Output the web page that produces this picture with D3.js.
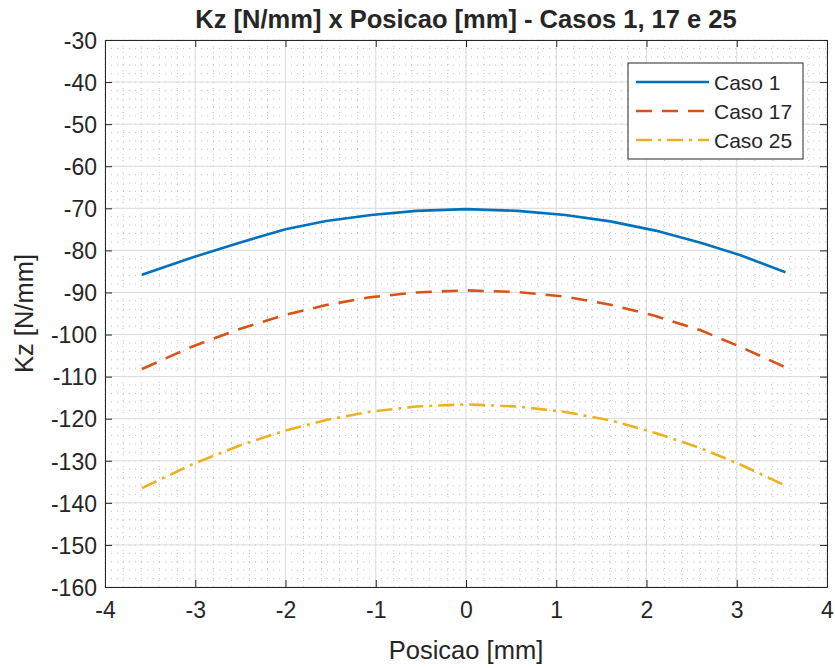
<!DOCTYPE html>
<html>
<head>
<meta charset="utf-8">
<script src="https://cdn.jsdelivr.net/npm/d3@7"></script>
<style>
  body { margin: 0; background: #fff; }
  text { font-family: "Liberation Sans", Arial, sans-serif; fill: #262626; }
</style>
</head>
<body>
<script>
var posicao = [-3.59, -3.05, -2.5, -2.0, -1.55, -1.05, -0.55, 0, 0.57, 1.1, 1.6, 2.1, 2.6, 3.05, 3.54];
var caso1  = [-85.8, -81.8, -78.1, -75.0, -73.0, -71.6, -70.6, -70.2, -70.6, -71.6, -73.1, -75.3, -78.2, -81.2, -85.2];
var caso17 = [-108.2, -103.0, -98.6, -95.3, -93.0, -91.1, -90.0, -89.5, -89.9, -91.0, -92.9, -95.6, -99.0, -103.0, -107.8];
var caso25 = [-136.5, -131.0, -126.3, -122.8, -120.3, -118.3, -117.1, -116.6, -117.1, -118.4, -120.4, -123.4, -127.0, -131.0, -135.9];
var seriesNames = ['Caso 1', 'Caso 17', 'Caso 25'];
var xTicks = [-4, -3, -2, -1, 0, 1, 2, 3, 4];
var yTicks = [-30, -40, -50, -60, -70, -80, -90, -100, -110, -120, -130, -140, -150, -160];

var width = 835, height = 668;
var margin = {left: 105, right: 8, top: 40, bottom: 81};
var colors = ['#0072BD', '#D95319', '#EDB120'];
var dashes = [null, '16,10', '16,6,3,6'];

var x = d3.scaleLinear().domain([-4, 4]).range([margin.left, width - margin.right]);
var y = d3.scaleLinear().domain([-160, -30]).range([height - margin.bottom, margin.top]);

// matlab style labels use a plain hyphen
var fmt = d => String(d);

var svg = d3.select('body').append('svg')
  .attr('width', width)
  .attr('height', height);

var x0 = x.range()[0], x1 = x.range()[1], y0 = y.range()[1], y1 = y.range()[0];

// minor grid
var xMinor = d3.range(-4, 4.001, 0.2);
var yMinor = d3.range(-160, -29.9, 2);
svg.append('g').selectAll('line').data(xMinor).enter().append('line')
  .attr('x1', d => x(d)).attr('x2', d => x(d))
  .attr('y1', y0).attr('y2', y1)
  .attr('stroke', '#b0b0b0').attr('stroke-width', 0.8)
  .attr('stroke-dasharray', '1,5');
svg.append('g').selectAll('line').data(yMinor).enter().append('line')
  .attr('x1', x0).attr('x2', x1)
  .attr('y1', d => y(d)).attr('y2', d => y(d))
  .attr('stroke', '#b0b0b0').attr('stroke-width', 0.8)
  .attr('stroke-dasharray', '1,5');

// major grid
svg.append('g').selectAll('line').data(xTicks).enter().append('line')
  .attr('x1', d => x(d)).attr('x2', d => x(d))
  .attr('y1', y0).attr('y2', y1)
  .attr('stroke', '#dcdcdc').attr('stroke-width', 1);
svg.append('g').selectAll('line').data(yTicks).enter().append('line')
  .attr('x1', x0).attr('x2', x1)
  .attr('y1', d => y(d)).attr('y2', d => y(d))
  .attr('stroke', '#dcdcdc').attr('stroke-width', 1);

// lines
var line = d3.line()
  .x(d => x(d[0]))
  .y(d => y(d[1]));

[caso1, caso17, caso25].forEach(function(vals, i) {
  svg.append('path')
    .datum(posicao.map((p, j) => [p, vals[j]]))
    .attr('d', line)
    .attr('fill', 'none')
    .attr('stroke', colors[i])
    .attr('stroke-width', 2.6)
    .attr('stroke-dasharray', dashes[i]);
});

// axes (inward ticks on all sides)
var tick = 7;
var bottomAxis = d3.axisBottom(x).tickValues(xTicks).tickSizeInner(-tick).tickSizeOuter(0).tickPadding(15).tickFormat(fmt);
var topAxis = d3.axisTop(x).tickValues(xTicks).tickSizeInner(-tick).tickSizeOuter(0).tickFormat('');
var leftAxis = d3.axisLeft(y).tickValues(yTicks).tickSizeInner(-tick).tickSizeOuter(0).tickPadding(8).tickFormat(fmt);
var rightAxis = d3.axisRight(y).tickValues(yTicks).tickSizeInner(-tick).tickSizeOuter(0).tickFormat('');

function styleAxis(g) {
  g.select('.domain').attr('stroke', '#262626').attr('stroke-width', 1);
  g.selectAll('.tick line').attr('stroke', '#262626').attr('stroke-width', 1);
  g.selectAll('.tick text').style('font-family', '"Liberation Sans", Arial, sans-serif')
    .style('font-size', '23px').attr('fill', '#262626');
}

svg.append('g').attr('transform', `translate(0,${y1})`).call(bottomAxis).call(styleAxis);
svg.append('g').attr('transform', `translate(0,${y0})`).call(topAxis).call(styleAxis);
svg.append('g').attr('transform', `translate(${x0},0)`).call(leftAxis).call(styleAxis)
  .selectAll('.tick text').attr('dy', '0.36em');
svg.append('g').attr('transform', `translate(${x1},0)`).call(rightAxis).call(styleAxis);

// title and labels
svg.append('text')
  .attr('x', (x0 + x1) / 2).attr('y', 28)
  .attr('text-anchor', 'middle')
  .style('font-size', '25.5px').style('font-weight', 'bold')
  .attr('fill', '#000')
  .text('Kz [N/mm] x Posicao [mm] - Casos 1, 17 e 25');

svg.append('text')
  .attr('x', (x0 + x1) / 2).attr('y', 659)
  .attr('text-anchor', 'middle')
  .style('font-size', '25.5px')
  .text('Posicao [mm]');

svg.append('text')
  .attr('transform', `translate(33,${(y0 + y1) / 2}) rotate(-90)`)
  .attr('text-anchor', 'middle')
  .style('font-size', '25.5px')
  .text('Kz [N/mm]');

// legend
var legend = svg.append('g').attr('transform', 'translate(628,63)');
legend.append('rect')
  .attr('width', 175).attr('height', 96)
  .attr('fill', '#fff').attr('stroke', '#262626').attr('stroke-width', 1);

seriesNames.forEach(function(name, i) {
  var ly = 19 + i * 29;
  legend.append('line')
    .attr('x1', 8).attr('x2', 81)
    .attr('y1', ly).attr('y2', ly)
    .attr('stroke', colors[i]).attr('stroke-width', 2.6)
    .attr('stroke-dasharray', dashes[i]);
  legend.append('text')
    .attr('x', 86).attr('y', ly).attr('dy', '0.36em')
    .style('font-size', '21px')
    .attr('fill', '#000')
    .text(name);
});
</script>
</body>
</html>
